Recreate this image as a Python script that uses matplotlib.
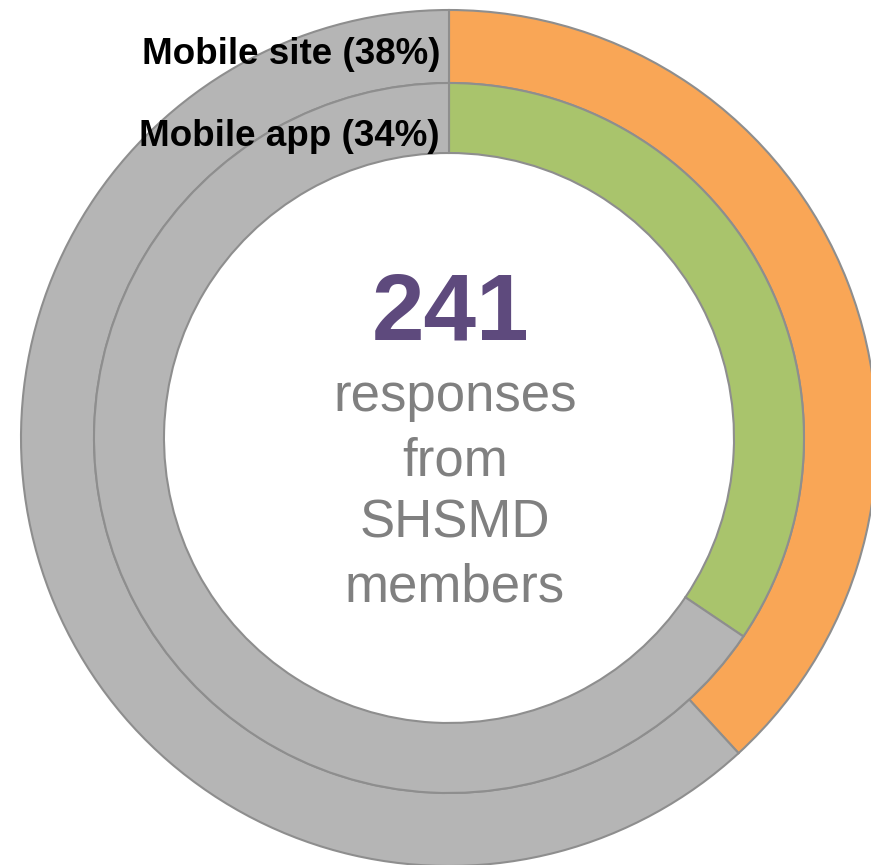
import matplotlib
matplotlib.use("Agg")
import matplotlib.pyplot as plt

categories = ["Mobile site", "Mobile app"]
counts = [92, 83]
total_responses = 241
pct_labels = [38, 34]
center_lines = ["responses", "from", "SHSMD", "members"]

W, H = 871, 865
fig = plt.figure(figsize=(W / 100, H / 100), dpi=100)
ax = fig.add_axes([0, 0, 1, 1])

cx, cy = 449, H - 438
r_out, r_mid, r_in = 428, 355, 285
gray = "#B5B5B5"
edge = "#8E8E8E"
colors = ["#F9A656", "#A9C46C"]

ax.pie([counts[0], total_responses - counts[0]], radius=r_out, center=(cx, cy),
       colors=[colors[0], gray], startangle=90, counterclock=False,
       wedgeprops=dict(width=r_out - r_mid, edgecolor=edge, linewidth=1.5),
       frame=True)
ax.pie([counts[1], total_responses - counts[1]], radius=r_mid, center=(cx, cy),
       colors=[colors[1], gray], startangle=90, counterclock=False,
       wedgeprops=dict(width=r_mid - r_in, edgecolor=edge, linewidth=1.5),
       frame=True)
ax.set_xlim(0, W)
ax.set_ylim(0, H)
ax.set_aspect("equal")
ax.axis("off")

font = "Liberation Sans"
label_y = [H - 55, H - 136]
for cat, v, y in zip(categories, pct_labels, label_y):
    ax.text(440, y, f"{cat} ({v}%)", ha="right", va="center",
            fontsize=26.5, fontweight="bold", color="black", family=font)

ax.text(cx + 2, H - 340, str(total_responses), ha="center", va="baseline",
        fontsize=68, fontweight="bold", color="#5E4A7D", family=font)
baselines = [411, 475, 538, 602]
for line, b in zip(center_lines, baselines):
    ax.text(cx + 6, H - b, line, ha="center", va="baseline",
            fontsize=38, color="#808080", family=font)

fig.savefig("out.png", dpi=100)
